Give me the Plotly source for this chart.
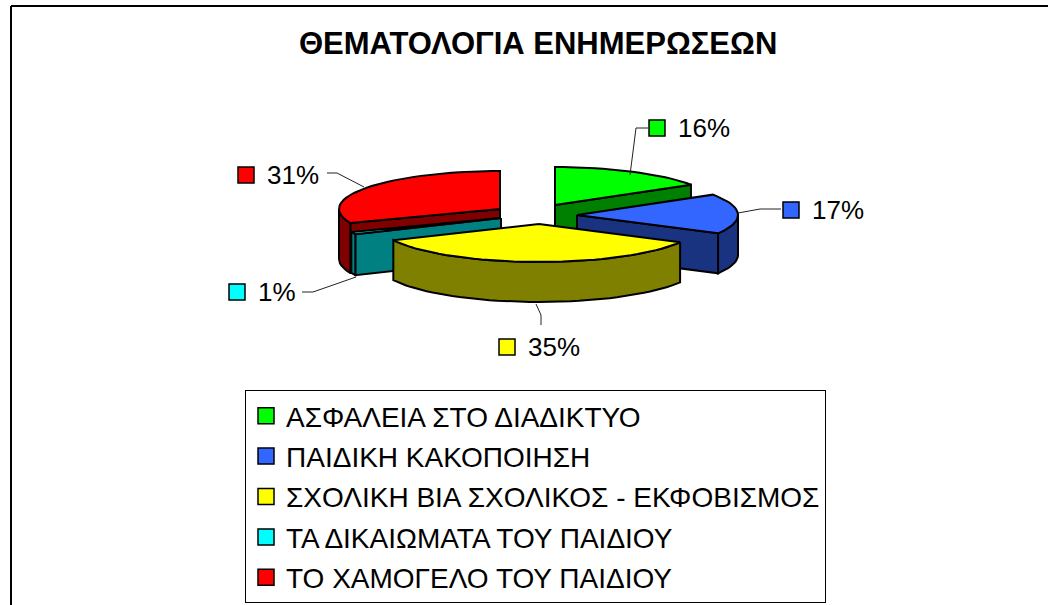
import math
import plotly.graph_objects as go

categories = ["ΑΣΦΑΛΕΙΑ ΣΤΟ ΔΙΑΔΙΚΤΥΟ", "ΠΑΙΔΙΚΗ ΚΑΚΟΠΟΙΗΣΗ",
              "ΣΧΟΛΙΚΗ ΒΙΑ ΣΧΟΛΙΚΟΣ - ΕΚΦΟΒΙΣΜΟΣ", "ΤΑ ΔΙΚΑΙΩΜΑΤΑ ΤΟΥ ΠΑΙΔΙΟΥ",
              "ΤΟ ΧΑΜΟΓΕΛΟ ΤΟΥ ΠΑΙΔΙΟΥ"]
values = [16, 17, 35, 1, 31]
title = "ΘΕΜΑΤΟΛΟΓΙΑ ΕΝΗΜΕΡΩΣΕΩΝ"

top_colors = ["#00FF00", "#3366FF", "#FFFF00", "#00FFFF", "#FF0000"]
side_colors = ["#008000", "#1A3380", "#808000", "#008080", "#800000"]

# style / layout constants (pixels on the hidden axes)
RX, RY = 161, 38
depths = [40, 40, 40, 41, 50]
apex = [(555, 205), (577, 215), (539, 224), (501, 218), (500, 209)]
key_pos = [(657, 128), (791, 210), (507, 347), (237, 292), (246, 175)]
leaders = [([648, 636, 630], [128, 128, 175]),
           ([781, 760, 738], [209, 209, 213]),
           ([541, 541, 536], [325, 315, 304]),
           ([302, 313, 356], [292, 292, 277]),
           ([327, 337, 364], [173, 173, 187])]
# slices are drawn back to front
draw_order = [0, 4, 3, 1, 2]

total = sum(values)
starts, acc = [], 0
for v in values:
    starts.append(acc / total * 2 * math.pi)
    acc += v


def pt(i, t, drop=0):
    ax, ay = apex[i]
    return ax + RX * math.sin(t), ay - RY * math.cos(t) + drop


def arc(i, a, b, drop=0):
    n = max(2, int(abs(b - a) / 0.05))
    return [pt(i, a + (b - a) * k / n, drop) for k in range(n + 1)]


def poly(points, color, lw=2):
    xs = [p[0] for p in points] + [points[0][0]]
    ys = [p[1] for p in points] + [points[0][1]]
    return go.Scatter(x=xs, y=ys, mode="lines", fill="toself", fillcolor=color,
                      line=dict(color="black", width=lw), hoverinfo="skip",
                      showlegend=False)


fig = go.Figure()
for i in draw_order:
    a = starts[i]
    b = a + values[i] / total * 2 * math.pi
    ax, ay = apex[i]
    d = depths[i]
    # cut faces
    for t in (a, b):
        ex, ey = pt(i, t)
        if (t == b and i in (0, 1)) or (t == a and i == 3) or (t == a and i == 4):
            fig.add_trace(poly([(ax, ay), (ex, ey), (ex, ey + d), (ax, ay + d)],
                               side_colors[i]))
    # outer wall: only the part on the near side of the pie
    lo, hi = max(a, math.pi / 2), min(b, 3 * math.pi / 2)
    if hi > lo:
        fig.add_trace(poly(arc(i, lo, hi) + arc(i, hi, lo, d), side_colors[i]))
    # top face
    fig.add_trace(poly([(ax, ay)] + arc(i, a, b), top_colors[i]))

for lx, ly in leaders:
    fig.add_trace(go.Scatter(x=lx, y=ly, mode="lines", hoverinfo="skip", showlegend=False,
                             line=dict(color="#222222", width=1)))

annotations = [dict(x=kx + 19, y=ky, xref="x", yref="y", xanchor="left", yanchor="middle",
                    text=f"{v}%", showarrow=False,
                    font=dict(family="Liberation Sans", size=26, color="black"))
               for v, (kx, ky) in zip(values, key_pos)]

for name, color, (kx, ky) in zip(categories, top_colors, key_pos):
    fig.add_trace(go.Scatter(x=[kx], y=[ky], mode="markers", name=name, legendgroup=name,
                             hoverinfo="skip",
                             marker=dict(symbol="square", size=16, color=color,
                                         line=dict(color="black", width=1.5))))

fig.update_layout(
    width=1048, height=605, margin=dict(l=0, r=0, t=0, b=0),
    paper_bgcolor="white", plot_bgcolor="white",
    xaxis=dict(range=[0, 1048], visible=False, fixedrange=True),
    yaxis=dict(range=[605, 0], visible=False, fixedrange=True),
    annotations=annotations + [dict(x=538, y=43, xref="x", yref="y", text=f"<b>{title}</b>",
                                    showarrow=False,
                                    font=dict(family="Liberation Sans", size=31, color="black"))],
    shapes=[dict(type="line", xref="x", yref="y", x0=11, y0=6, x1=11, y1=605,
                 line=dict(color="black", width=2), layer="below"),
            dict(type="line", xref="x", yref="y", x0=11, y0=6, x1=1048, y1=6,
                 line=dict(color="black", width=2), layer="below")],
    legend=dict(x=245 / 1048, y=1 - 390 / 605, xanchor="left", yanchor="top",
                bgcolor="white", bordercolor="black", borderwidth=1,
                tracegroupgap=1,
                font=dict(family="Liberation Sans", size=28, color="black")),
)
fig.write_html("out.html", config={"displayModeBar": False},
               post_script="document.body.style.margin='0';")
